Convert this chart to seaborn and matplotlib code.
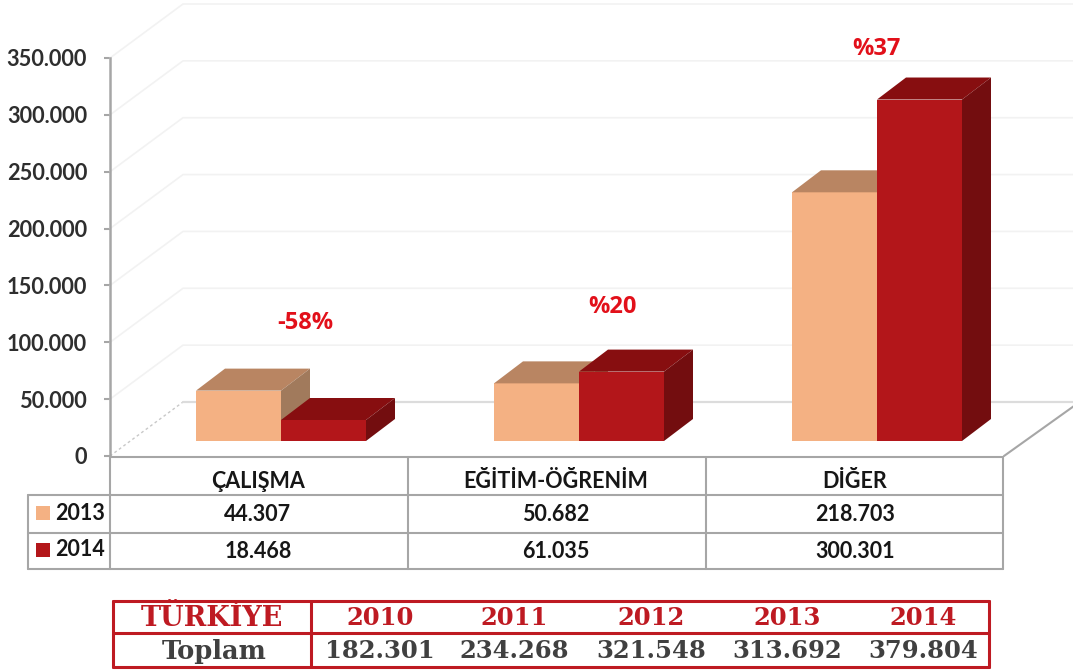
"""
Grouped pseudo-3D bars with data table and yearly totals strip below.
"""

import matplotlib
matplotlib.use("Agg")
import matplotlib.pyplot as plt
from matplotlib.patches import Polygon, Rectangle
import pandas as pd
import seaborn as sns

# ==========================================
# DATA
# ==========================================
CATEGORIES = ["ÇALIŞMA", "EĞİTİM-ÖĞRENİM", "DİĞER"]
VALUES_2013 = [44307, 50682, 218703]
VALUES_2014 = [18468, 61035, 300301]
CHANGE_LABELS = ["-58%", "%20", "%37"]
Y_TICKS = [0, 50000, 100000, 150000, 200000, 250000, 300000, 350000]

TOTAL_YEARS = ["2010", "2011", "2012", "2013", "2014"]
TOTAL_VALUES = ["182.301", "234.268", "321.548", "313.692", "379.804"]

# ==========================================
# STYLE
# ==========================================
W, H = 1073, 671
YEAR_COLORS = {"2013": "#F4B183", "2014": "#B3161A"}
TOP_COLORS = {"2013": "#B98562", "2014": "#870E10"}
SIDE_COLORS = {"2013": "#A17A5C", "2014": "#730D0F"}
PX_PER_CAT = 298
PX_PER_UNIT = 398 / 350000
LINE_GRAY = "#A6A6A6"
RED = "#BE1A22"


def fmt(v):
    return f"{v:,.0f}".replace(",", ".")


def ax_px(fig, left, right, top, bottom):
    """Axes from pixel edges, y counted from the top of the image."""
    return fig.add_axes([left / W, 1 - bottom / H, (right - left) / W, (bottom - top) / H])


def draw_walls(ax):
    wall_x = 73 / PX_PER_CAT
    wall_y = 54 / PX_PER_UNIT
    x0 = -0.5
    x_end = x0 + (W - 110) / PX_PER_CAT
    for tick in Y_TICKS[1:]:
        ax.plot([x0, x0 + wall_x, x_end], [tick, tick + wall_y, tick + wall_y],
                color="#F2F2F2", lw=1.2, clip_on=False, zorder=1)
    # floor
    ax.plot([x0, x0 + wall_x], [0, wall_y], color="#C8C8C8", lw=1, ls=(0, (2, 2)),
            clip_on=False, zorder=1)
    ax.plot([x0 + wall_x, x_end], [wall_y, wall_y], color="#DCDCDC", lw=1.6,
            clip_on=False, zorder=1)
    ax.plot([2.5, 2.5 + 70 / PX_PER_CAT], [0, 50 / PX_PER_UNIT], color=LINE_GRAY, lw=1.5,
            clip_on=False, zorder=1)


def add_depth(ax):
    dx = 29 / PX_PER_CAT
    dy = 22 / PX_PER_UNIT
    for z, (year, bars) in enumerate(zip(YEAR_COLORS, ax.containers)):
        for bar in bars:
            bar.set_zorder(3 + z)
            x0, x1 = bar.get_x(), bar.get_x() + bar.get_width()
            h = bar.get_height()
            ax.add_patch(Polygon([(x0, h), (x1, h), (x1 + dx, h + dy), (x0 + dx, h + dy)],
                                 fc=TOP_COLORS[year], ec="none", clip_on=False, zorder=3 + z))
            ax.add_patch(Polygon([(x1, 0), (x1 + dx, dy), (x1 + dx, h + dy), (x1, h)],
                                 fc=SIDE_COLORS[year], ec="none", clip_on=False, zorder=3 + z))


def draw_table(ov):
    # horizontal rules: (y, x start)
    for y, x0 in [(457, 110), (495, 28), (533, 28), (569, 28)]:
        ov.plot([x0, 1003], [y, y], color=LINE_GRAY, lw=1.5)
    for x, y0 in [(28, 495), (110, 457), (408, 457), (706, 457), (1003, 457)]:
        ov.plot([x, x], [y0, 569], color=LINE_GRAY, lw=1.5)

    cell = dict(ha="center", va="center", fontsize=15.5, fontweight="bold", color="#161616")
    centers = [258, 556, 855]
    for cx, name, v13, v14 in zip(centers, CATEGORIES, VALUES_2013, VALUES_2014):
        ov.text(cx, 481, name, **cell)
        ov.text(cx, 514.5, fmt(v13), **cell)
        ov.text(cx, 551.5, fmt(v14), **cell)

    for y, year in zip([513, 550], YEAR_COLORS):
        ov.add_patch(Rectangle((36, y - 7), 14, 14, fc=YEAR_COLORS[year], ec="none"))
        ov.text(80, y, year, **cell)


def draw_totals(ov):
    for y in [601, 633, 667]:
        ov.plot([113, 989], [y, y], color=RED, lw=2.2)
    for x in [113, 311, 989]:
        ov.plot([x, x], [601, 667], color=RED, lw=2.2)

    serif = dict(ha="center", va="center", fontweight="bold", family="DejaVu Serif")
    ov.text(212, 618, "TÜRKİYE", color=RED, fontsize=19.5, **serif)
    ov.text(214, 651, "Toplam", color="#404040", fontsize=18.5, **serif)
    for cx, year, total in zip([380, 514, 651, 787, 923], TOTAL_YEARS, TOTAL_VALUES):
        ov.text(cx, 618, year, color=RED, fontsize=17.5, **serif)
        ov.text(cx, 651, total, color="#404040", fontsize=17.5, **serif)


def main():
    sns.set_theme(style="white")
    plt.rcParams["font.family"] = ["Lato", "DejaVu Sans"]

    df = pd.DataFrame({
        "Kategori": CATEGORIES * 2,
        "Yil": ["2013"] * 3 + ["2014"] * 3,
        "Deger": VALUES_2013 + VALUES_2014,
    })

    fig = plt.figure(figsize=(W / 100, H / 100), dpi=100, facecolor="white")

    # back wall, floor and the value axis
    ax = ax_px(fig, 110, 1004, 58, 456)
    ax.set_xlim(-0.5, 2.5)
    ax.set_ylim(0, 350000)
    ax.set_xticks([])
    ax.set_yticks(Y_TICKS)
    ax.set_yticklabels([fmt(t) for t in Y_TICKS], fontsize=15.7, fontweight="bold", color="#2E2E2E")
    ax.tick_params(axis="y", left=True, length=4.5, width=1.5, color=LINE_GRAY, pad=12)
    sns.despine(ax=ax, bottom=True)
    ax.spines["left"].set_color(LINE_GRAY)
    ax.spines["left"].set_linewidth(1.8)
    ax.patch.set_alpha(0)
    draw_walls(ax)

    # bars sit forward of the wall, so they get their own shifted axes
    ax_bar = ax_px(fig, 132, 1026, 43, 441)
    sns.barplot(data=df, x="Kategori", y="Deger", hue="Yil", order=CATEGORIES,
                hue_order=list(YEAR_COLORS), palette=YEAR_COLORS, saturation=1,
                width=170 / PX_PER_CAT, legend=False, linewidth=0, edgecolor="none", ax=ax_bar)
    ax_bar.set_xlim(-0.5, 2.5)
    ax_bar.set_ylim(0, 350000)
    add_depth(ax_bar)
    ax_bar.set_axis_off()

    # overlay in image pixels for the tables and the change labels
    ov = fig.add_axes([0, 0, 1, 1])
    ov.set_xlim(0, W)
    ov.set_ylim(H, 0)
    ov.set_axis_off()
    draw_table(ov)
    draw_totals(ov)
    for (cx, cy), label in zip([(305, 323), (612, 307), (876, 49)], CHANGE_LABELS):
        ov.text(cx, cy, label, ha="center", va="center", fontsize=17, fontweight="bold",
                color="#E2101A", family="Open Sans")

    fig.savefig("out.png", dpi=100)


if __name__ == "__main__":
    main()
